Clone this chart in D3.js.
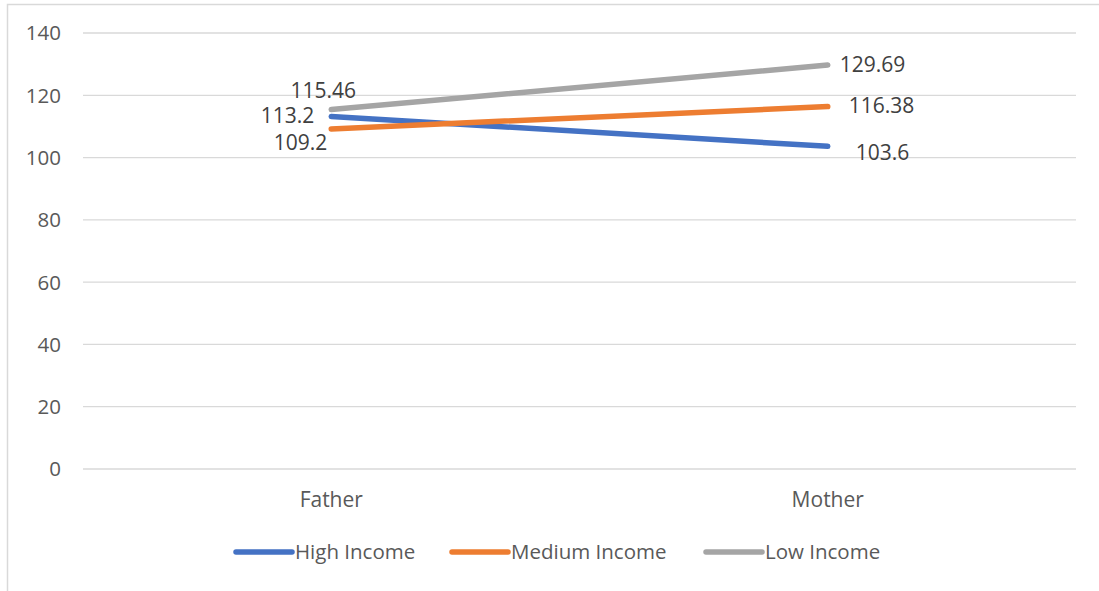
<!DOCTYPE html>
<html>
<head>
<meta charset="utf-8">
<script src="https://cdn.jsdelivr.net/npm/d3@7"></script>
<style>
  body { margin: 0; background: #fff; }
  svg text { font-family: "Open Sans", "Noto Sans", sans-serif; fill: #595959; }
</style>
</head>
<body>
<div id="chart"></div>
<script>
const categories = ['Father', 'Mother'];
const seriesNames = ['High Income', 'Medium Income', 'Low Income'];
const highIncome = [113.2, 103.6];
const mediumIncome = [109.2, 116.38];
const lowIncome = [115.46, 129.69];
const yTicks = [0, 20, 40, 60, 80, 100, 120, 140];

const colors = ['#4472C4', '#ED7D31', '#A5A5A5'];
const series = [highIncome, mediumIncome, lowIncome];

const width = 1099;
const height = 591;
const margin = { top: 33, bottom: 122, left: 83, right: 23 };

const svg = d3.select('#chart')
  .append('svg')
  .attr('width', width)
  .attr('height', height);

// chart border (runs off the right and bottom edge)
svg.append('rect')
  .attr('x', 7.5).attr('y', 4.5)
  .attr('width', 1110).attr('height', 610)
  .attr('fill', 'none')
  .attr('stroke', '#d9d9d9')
  .attr('stroke-width', 1.5);

const x = d3.scaleBand()
  .domain(categories)
  .range([margin.left, width - margin.right]);

const y = d3.scaleLinear()
  .domain([0, 140])
  .range([height - margin.bottom, margin.top]);

// gridlines
svg.append('g')
  .selectAll('line')
  .data(yTicks)
  .join('line')
    .attr('x1', margin.left)
    .attr('x2', width - margin.right)
    .attr('y1', d => y(d))
    .attr('y2', d => y(d))
    .attr('stroke', '#d9d9d9')
    .attr('stroke-width', 1.3);

// y tick labels
svg.append('g')
  .selectAll('text')
  .data(yTicks)
  .join('text')
    .attr('x', 61)
    .attr('y', d => y(d))
    .attr('dy', '0.36em')
    .attr('text-anchor', 'end')
    .attr('font-size', '20.5px')
    .text(d => d);

// category labels
svg.append('g')
  .selectAll('text')
  .data(categories)
  .join('text')
    .attr('x', d => x(d) + x.bandwidth() / 2)
    .attr('y', y(0) + 30)
    .attr('dy', '0.36em')
    .attr('text-anchor', 'middle')
    .attr('font-size', '21px')
    .text(d => d);

const line = d3.line()
  .x((d, i) => x(categories[i]) + x.bandwidth() / 2)
  .y(d => y(d));

svg.append('g')
  .selectAll('path')
  .data(series)
  .join('path')
    .attr('d', d => line(d))
    .attr('fill', 'none')
    .attr('stroke', (d, i) => colors[i])
    .attr('stroke-width', 5.5)
    .attr('stroke-linecap', 'round');

// data label offsets [dx, dy, anchor] per series per category
const labelOffsets = [
  [[-17, -1, 'end'], [28, 6, 'start']],
  [[-4, 14, 'end'], [21, -1, 'start']],
  [[-8, -19, 'middle'], [12, -1, 'start']]
];

const labelData = [];
series.forEach((vals, s) => vals.forEach((v, i) => labelData.push({ s, i, v })));

svg.append('g')
  .selectAll('text')
  .data(labelData)
  .join('text')
    .attr('x', d => x(categories[d.i]) + x.bandwidth() / 2 + labelOffsets[d.s][d.i][0])
    .attr('y', d => y(d.v) + labelOffsets[d.s][d.i][1])
    .attr('dy', '0.36em')
    .attr('text-anchor', d => labelOffsets[d.s][d.i][2])
    .attr('font-size', '21px')
    .style('fill', '#404040')
    .text(d => d.v);

// legend
const legendX = [236, 452, 706];
const legend = svg.append('g')
  .selectAll('g')
  .data(seriesNames)
  .join('g')
    .attr('transform', (d, i) => `translate(${legendX[i]},552)`);

legend.append('line')
  .attr('x1', 0).attr('x2', 56)
  .attr('y1', 0).attr('y2', 0)
  .attr('stroke', (d, i) => colors[i])
  .attr('stroke-width', 5.5)
  .attr('stroke-linecap', 'round');

legend.append('text')
  .attr('x', 59)
  .attr('y', 0)
  .attr('dy', '0.36em')
  .attr('font-size', '20.5px')
  .text(d => d);
</script>
</body>
</html>
